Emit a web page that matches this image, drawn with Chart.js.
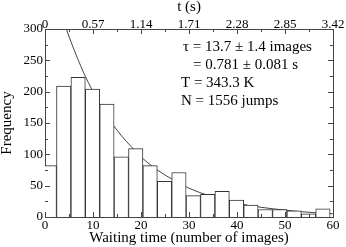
<!DOCTYPE html>
<html>
<head>
<meta charset="utf-8">
<script src="https://cdn.jsdelivr.net/npm/chart.js@4"></script>
<style>
html,body{margin:0;padding:0;background:#fff;}
#wrap{width:346px;height:247px;}
</style>
</head>
<body>
<div id="wrap"><canvas id="c" width="346" height="247"></canvas></div>
<script>
// Histogram bins (start of each bin, in images) and counts
const binStarts = [-0.6, 2.4, 5.4, 8.4, 11.4, 14.4, 17.4, 20.4, 23.4, 26.4, 29.4, 32.4, 35.4, 38.4, 41.4, 44.4, 47.4, 50.4, 53.4, 56.4];
const binWidth = 3;
const counts = [82, 209, 223, 204, 180, 96, 109, 82, 57, 71, 34, 36, 41, 27, 19, 12, 12, 10, 5, 13];

// Fitted exponential curve
const curveX = [4, 5, 6, 7, 8, 9, 10, 12, 14, 16, 18, 20, 22.5, 25, 27.5, 30, 35, 40, 45, 50, 55, 60];
const curveY = [310, 288, 268, 249, 231, 215, 200, 173, 149, 129, 112, 96, 80, 67, 56, 46, 32, 22, 15.5, 11, 7.5, 5.2];

// Tick labels
const bottomTicks = [0, 10, 20, 30, 40, 50, 60];
const topTickLabels = ['0', '0.57', '1.14', '1.71', '2.28', '2.85', '3.42'];
const leftTicks = [0, 50, 100, 150, 200, 250, 300];

const annotation = ['\u03c4 = 13.7 \u00b1 1.4 images', '= 0.781 \u00b1 0.081 s', 'T = 343.3 K', 'N = 1556 jumps'];

const FONT = '"Liberation Serif", "Times New Roman", serif';
const FRAME = '#444';

const barData = binStarts.map((s, i) => ({ x: s + binWidth / 2, y: counts[i] }));
const curveData = curveX.map((x, i) => ({ x: x, y: curveY[i] }));

const tickPlugin = {
  id: 'innerTicks',
  beforeDatasetsDraw(chart) {
    const a = chart.chartArea;
    const ctx = chart.ctx;
    ctx.save();
    ctx.beginPath();
    ctx.rect(a.left, a.top, a.right - a.left, a.bottom - a.top);
    ctx.clip();
  },
  afterDatasetsDraw(chart) {
    const ctx = chart.ctx;
    ctx.restore();
  },
  afterDraw(chart) {
    const ctx = chart.ctx;
    const a = chart.chartArea;
    const xs = chart.scales.x, ys = chart.scales.y;
    ctx.save();
    ctx.strokeStyle = FRAME;
    ctx.lineWidth = 1;
    ctx.beginPath();
    for (let v = 0; v <= 60; v += 5) {
      const px = Math.round(xs.getPixelForValue(v)) + 0.5;
      const len = (v % 10 === 0) ? 5 : 3;
      ctx.moveTo(px, a.bottom); ctx.lineTo(px, a.bottom - len);
      ctx.moveTo(px, a.top); ctx.lineTo(px, a.top + len);
    }
    for (let v = 0; v <= 300; v += 25) {
      const py = Math.round(ys.getPixelForValue(v)) + 0.5;
      const len = (v % 50 === 0) ? 5 : 3;
      ctx.moveTo(a.left, py); ctx.lineTo(a.left + len, py);
      ctx.moveTo(a.right, py); ctx.lineTo(a.right - len, py);
    }
    ctx.stroke();
    // left tick labels
    ctx.fillStyle = '#000';
    ctx.font = '13px ' + FONT;
    ctx.textAlign = 'right';
    ctx.textBaseline = 'middle';
    leftTicks.forEach(v => ctx.fillText(String(v), a.left - 2, ys.getPixelForValue(v)));
    // annotation text
    ctx.font = '15px ' + FONT;
    ctx.textAlign = 'left';
    const lx = [183, 193, 181, 181];
    const ly = [47, 65, 83, 101];
    annotation.forEach((t, i) => ctx.fillText(t, lx[i], ly[i]));
    ctx.restore();
  }
};

new Chart(document.getElementById('c'), {
  data: {
    datasets: [
      {
        type: 'bar',
        data: barData,
        backgroundColor: '#ffffff',
        borderColor: '#333',
        borderWidth: 1,
        barPercentage: 1,
        categoryPercentage: 1,
        clip: 0,
        xAxisID: 'x', yAxisID: 'y'
      },
      {
        type: 'line',
        data: curveData,
        borderColor: '#444',
        borderWidth: 1,
        pointRadius: 0,
        fill: false,
        cubicInterpolationMode: 'monotone',
        clip: 0,
        xAxisID: 'x', yAxisID: 'y'
      }
    ]
  },
  options: {
    responsive: false,
    animation: false,
    devicePixelRatio: 1,
    layout: { padding: 0 },
    plugins: { legend: { display: false }, tooltip: { enabled: false } },
    scales: {
      x: {
        type: 'linear', position: 'bottom', min: 0, max: 60, offset: false,
        afterBuildTicks: s => { s.ticks = bottomTicks.map(v => ({ value: v })); },
        ticks: { color: '#000', font: { family: FONT, size: 13 }, padding: 1, maxRotation: 0, autoSkip: false },
        grid: { display: false, drawTicks: false, offset: false },
        border: { display: true, color: FRAME, width: 1 },
        title: { display: true, text: 'Waiting time (number of images)', color: '#000', font: { family: FONT, size: 15, lineHeight: 1 }, padding: { top: 0, bottom: 1 } },
        afterFit: s => { s.height = 30; }
      },
      x2: {
        type: 'linear', position: 'top', min: 0, max: 60, offset: false,
        afterBuildTicks: s => { s.ticks = bottomTicks.map(v => ({ value: v })); },
        ticks: { color: '#000', font: { family: FONT, size: 13 }, padding: -3, maxRotation: 0, autoSkip: false,
          callback: (v) => topTickLabels[bottomTicks.indexOf(v)] },
        grid: { display: false, drawTicks: false, offset: false },
        border: { display: true, color: FRAME, width: 1 },
        title: { display: true, text: 't (s)', color: '#000', font: { family: FONT, size: 15, lineHeight: 1 }, padding: 0 },
        afterFit: s => { s.height = 29; }
      },
      y: {
        type: 'linear', position: 'left', min: 0, max: 300,
        afterBuildTicks: s => { s.ticks = leftTicks.map(v => ({ value: v })); },
        ticks: { display: false },
        grid: { display: false, drawTicks: false },
        border: { display: true, color: FRAME, width: 1 },
        title: { display: true, text: 'Frequency', color: '#000', font: { family: FONT, size: 15, lineHeight: 1 }, padding: 0 },
        afterFit: s => { s.width = 45; }
      },
      y2: {
        type: 'linear', position: 'right', min: 0, max: 300,
        ticks: { display: false },
        grid: { display: false, drawTicks: false },
        border: { display: true, color: FRAME, width: 1 },
        afterFit: s => { s.width = 13; }
      }
    }
  },
  plugins: [tickPlugin]
});
</script>
</body>
</html>
